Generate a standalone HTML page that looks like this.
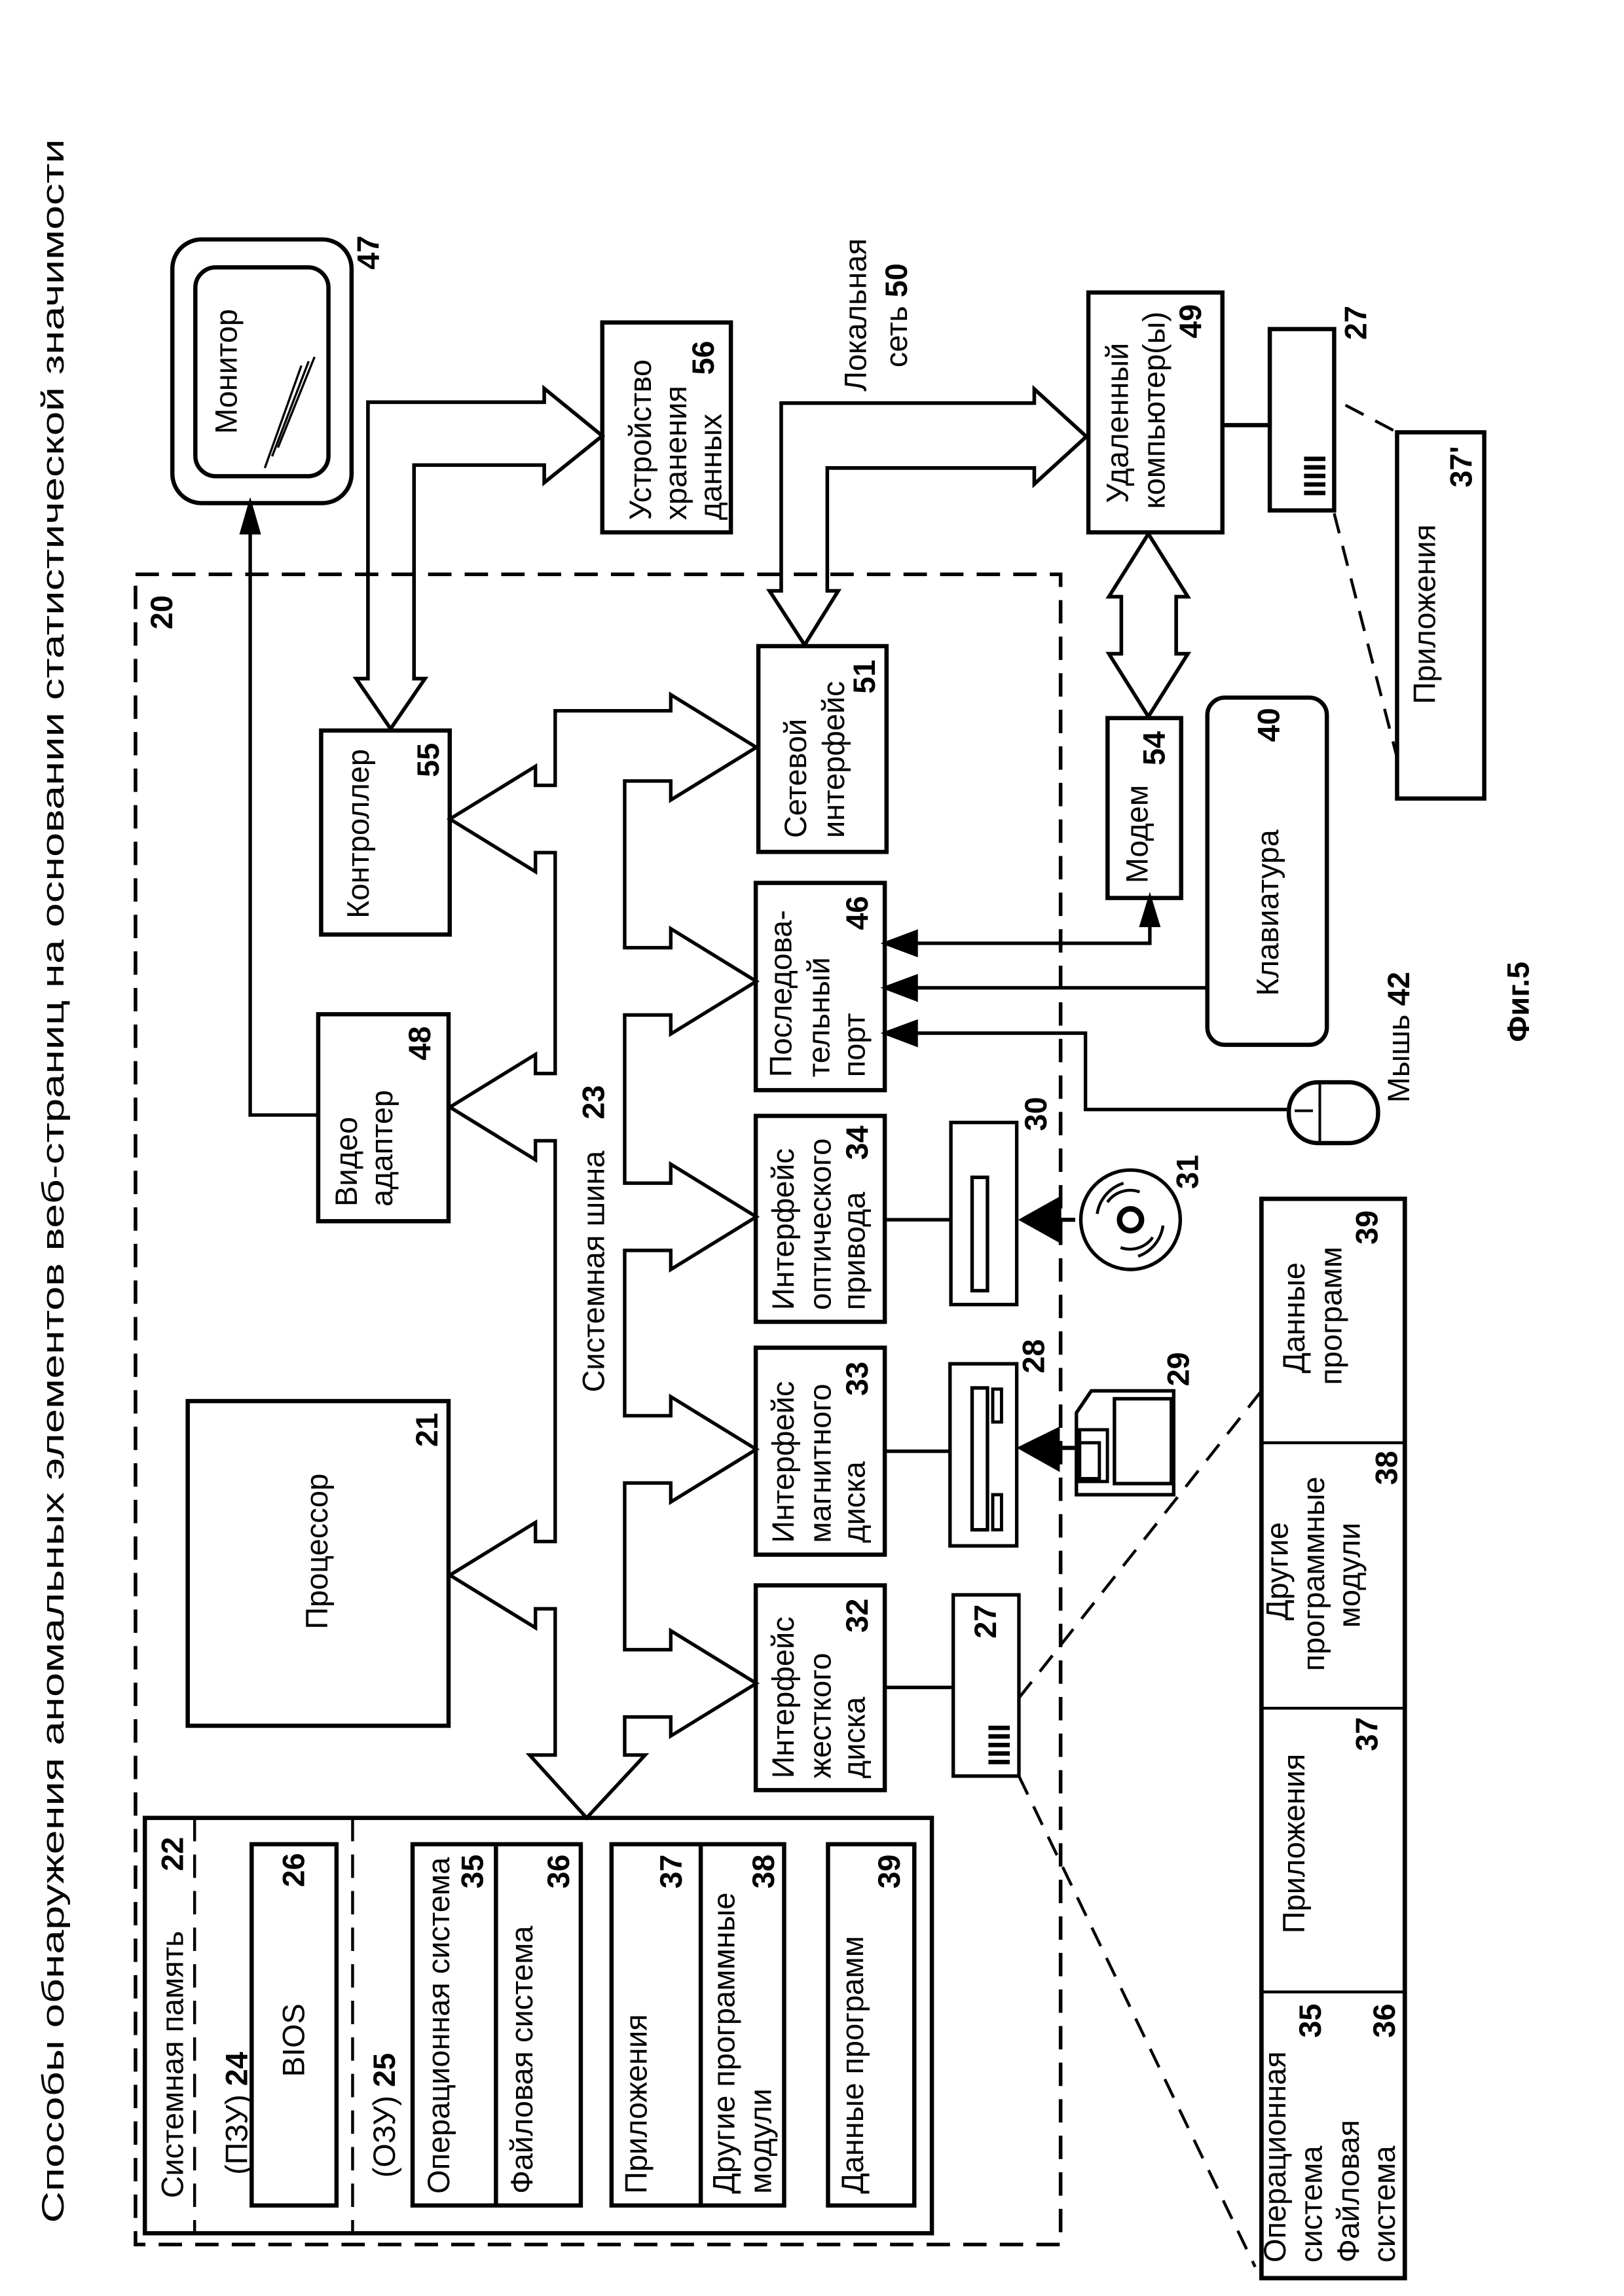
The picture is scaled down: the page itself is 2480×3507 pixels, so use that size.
<!DOCTYPE html>
<html><head><meta charset="utf-8"><style>
html,body{margin:0;padding:0;background:#fff;}
svg{display:block;}
text{font-family:"Liberation Sans","DejaVu Sans",sans-serif;fill:#000;font-size:21px;}
.b{font-weight:bold;}
</style></head><body>
<svg xmlns="http://www.w3.org/2000/svg" width="2480" height="3507" viewBox="0 0 1110.1 1569.9">
<rect x="0" y="0" width="1110.1" height="1569.9" fill="#fff"/>
<g fill="none" stroke="#000" stroke-width="2.9">

<rect x="92.6" y="392.7" width="632.4" height="1142" stroke-dasharray="16,9" stroke-width="2.5"/>

<rect x="117.8" y="163.7" width="122.5" height="180.3" rx="20"/>
<rect x="133.5" y="182.8" width="91" height="142.8" rx="14"/>
<line x1="181" y1="320" x2="206" y2="250" stroke-width="1.5"/>
<line x1="186" y1="312" x2="211" y2="247" stroke-width="1.5"/>
<line x1="190" y1="306" x2="215" y2="244" stroke-width="1.5"/>

<polyline points="217.5,762.4 171,762.4 171,362" stroke-width="2.4"/>
<polygon points="171,345 165.5,364 176.5,364" fill="#000"/>

<rect x="411.7" y="220.5" width="87.9" height="143.5"/>
<polygon points="251.5,464 243.4,464 267,498.3 290.5,464 283,464 283,318 372,318 372,330 411.7,298 372,265.6 372,275 251.5,275" stroke-width="2.5"/>

<rect x="744" y="200" width="91.6" height="164"/>
<polygon points="534,404 526,404 550,441 573,404 565.5,404 565.5,320 707,320 707,331 742.6,298.5 707,266 707,275.6 534,275.6" stroke-width="2.5"/>
<polygon points="785,365 758,408 766.5,408 766.5,447 758,447 785,490 812,447 804,447 804,408 812,408" stroke-width="2.5"/>

<line x1="835.6" y1="290.7" x2="868" y2="290.7"/>
<rect x="868" y="225" width="44" height="124"/>
<rect x="955" y="295.6" width="59.6" height="250.4"/>
<line x1="919.7" y1="277" x2="955" y2="295.6" stroke-dasharray="14,9" stroke-width="2"/>
<line x1="912" y1="351" x2="955" y2="518" stroke-dasharray="14,9" stroke-width="2"/>

<rect x="219.5" y="499.5" width="87.9" height="139.5"/>
<rect x="217.5" y="693.5" width="89.1" height="141.5"/>
<rect x="128.3" y="958" width="178.3" height="222"/>

<rect x="518.4" y="441.8" width="87.6" height="140.7"/>
<rect x="516.6" y="603.7" width="88.2" height="141.7"/>
<rect x="516.6" y="763" width="88.2" height="140.8"/>
<rect x="516.6" y="921.5" width="88.2" height="141.5"/>
<rect x="516.6" y="1084" width="88.2" height="140"/>

<rect x="757.1" y="491" width="50.3" height="123"/>
<rect x="825.3" y="477" width="81.7" height="237.4" rx="12"/>

<polygon stroke-width="2.4" points="379.5,486 458.5,486 458.5,475 517,511 458.5,547 458.5,534 427,534 427,648 458.5,648 458.5,635 517,671 458.5,707 458.5,694 427,694 427,809 458.5,809 458.5,796 517,832 458.5,868 458.5,855 427,855 427,968 458.5,968 458.5,955 517,991 458.5,1027 458.5,1014 427,1014 427,1128 458.5,1128 458.5,1115 517,1151 458.5,1187 458.5,1174 427,1174 427,1200 441,1200 401,1243 362,1200 379.5,1200 379.5,1100 366,1100 366,1113 307.5,1077 366,1041 366,1054 379.5,1054 379.5,780 366,780 366,793 307.5,757 366,721 366,734 379.5,734 379.5,583 366,583 366,596 307.5,560 366,524 366,537 379.5,537"/>

<polyline points="625,645 786,645 786,632" stroke-width="2.4"/>
<polygon points="606,645 626,637.5 626,652.5" fill="#000"/>
<polygon points="786,614.8 780.6,632.5 791.4,632.5" fill="#000"/>
<line x1="625" y1="675.4" x2="825.3" y2="675.4" stroke-width="2.4"/>
<polygon points="606,675.4 626,668 626,683" fill="#000"/>
<polyline points="625,706.4 742,706.4 742,758.6 881.7,758.6" stroke-width="2.4"/>
<polygon points="606,706.4 626,699 626,714" fill="#000"/>
<rect x="881" y="740" width="61" height="41.6" rx="20"/>
<line x1="902.2" y1="740" x2="902.2" y2="781.6" stroke-width="1.8"/>
<line x1="885" y1="759.5" x2="897.5" y2="759.5" stroke-width="1.8"/>

<line x1="604.8" y1="834" x2="650" y2="834" stroke-width="2.4"/>
<rect x="650" y="767.5" width="45" height="124.5" stroke-width="2.4"/>
<rect x="664.5" y="805" width="10.5" height="77.5" stroke-width="2.4"/>
<circle cx="772.8" cy="834" r="34" stroke-width="2.4"/>
<circle cx="772.8" cy="834" r="7.5" stroke-width="3.8"/>
<path d="M757,822 A19,19 0 0 1 779,815" stroke-width="2"/>
<path d="M750,830 A26,26 0 0 1 768,809" stroke-width="2"/>
<path d="M788,846 A19,19 0 0 1 766,853" stroke-width="2"/>
<path d="M795,838 A26,26 0 0 1 778,859" stroke-width="2"/>
<line x1="723" y1="834" x2="735" y2="834" stroke-width="2.8"/>
<polygon points="699,834 724,820 724,848" fill="#000"/>

<line x1="604.8" y1="992.3" x2="649.4" y2="992.3" stroke-width="2.4"/>
<rect x="649.4" y="932.5" width="45.6" height="124.5" stroke-width="2.4"/>
<rect x="664.5" y="949" width="10.5" height="97" stroke-width="2.4"/>
<rect x="678.6" y="949.8" width="6" height="22.5" stroke-width="2.2"/>
<rect x="678.6" y="1022" width="6" height="24" stroke-width="2.2"/>
<path d="M735.8,1022 L802.3,1022 L802.3,951 L746,951 L735.8,966 Z" stroke-width="2.4"/>
<rect x="761.8" y="956.4" width="38.9" height="58" stroke-width="2.4"/>
<rect x="738" y="977.6" width="19" height="35.4" stroke-width="2.2"/>
<rect x="738" y="986.5" width="13.5" height="24.5" stroke-width="2.2"/>
<line x1="723" y1="990" x2="735.8" y2="990" stroke-width="2.8"/>
<polygon points="698,990 723,977.7 723,1004" fill="#000"/>

<line x1="604.8" y1="1153.8" x2="651.6" y2="1153.8" stroke-width="2.4"/>
<rect x="651.6" y="1090.5" width="44.9" height="123.9" stroke-width="2.4"/>
<line x1="696.5" y1="1161" x2="862.3" y2="951" stroke-dasharray="14,9" stroke-width="2"/>
<line x1="696.5" y1="1214.4" x2="858" y2="1550" stroke-dasharray="14,9" stroke-width="2"/>

<rect x="862.3" y="819.7" width="98" height="738" stroke-width="3"/>
<line x1="862.3" y1="986.5" x2="960.3" y2="986.5" stroke-width="2"/>
<line x1="862.3" y1="1168" x2="960.3" y2="1168" stroke-width="2"/>
<line x1="862.3" y1="1362" x2="960.3" y2="1362" stroke-width="2"/>

<rect x="99" y="1243" width="538" height="284"/>
<line x1="133" y1="1243" x2="133" y2="1527" stroke-dasharray="16,9" stroke-width="2"/>
<line x1="241" y1="1243" x2="241" y2="1527" stroke-dasharray="16,9" stroke-width="2"/>
<rect x="172" y="1261" width="58" height="247"/>
<rect x="282" y="1261" width="115" height="247"/>
<line x1="339" y1="1261" x2="339" y2="1508"/>
<rect x="418" y="1261" width="118" height="247"/>
<line x1="479" y1="1261" x2="479" y2="1508"/>
<rect x="566" y="1261" width="59" height="247"/>
</g>

<text transform="translate(43.4,1520) rotate(-90)" font-size="13" textLength="1425" lengthAdjust="spacingAndGlyphs">Способы обнаружения аномальных элементов веб-страниц на основании статистической значимости</text>

<text transform="translate(117.8,407) rotate(-90)" text-anchor="end" class="b">20</text>
<text transform="translate(161.7,254) rotate(-90)" text-anchor="middle">Монитор</text>
<text transform="translate(259,161) rotate(-90)" text-anchor="end" class="b">47</text>

<text transform="translate(445,355.6) rotate(-90)">Устройство</text>
<text transform="translate(469,355.6) rotate(-90)">хранения</text>
<text transform="translate(493,355.6) rotate(-90)">данных</text>
<text transform="translate(488,233) rotate(-90)" text-anchor="end" class="b">56</text>

<text transform="translate(592,163) rotate(-90)" text-anchor="end">Локальная</text>
<text transform="translate(620,180) rotate(-90)" text-anchor="end">сеть <tspan class="b">50</tspan></text>

<text transform="translate(771,344) rotate(-90)">Удаленный</text>
<text transform="translate(796,348) rotate(-90)">компьютер(ы)</text>
<text transform="translate(821,208) rotate(-90)" text-anchor="end" class="b">49</text>
<text transform="translate(906,340) rotate(-90)" font-size="13" class="b">IIIII</text>
<text transform="translate(934,209) rotate(-90)" text-anchor="end" class="b">27</text>
<text transform="translate(981,420) rotate(-90)" text-anchor="middle">Приложения</text>
<text transform="translate(1006,305) rotate(-90)" text-anchor="end" class="b">37'</text>

<text transform="translate(252,628) rotate(-90)">Контроллер</text>
<text transform="translate(300,508) rotate(-90)" text-anchor="end" class="b">55</text>
<text transform="translate(244,825) rotate(-90)">Видео</text>
<text transform="translate(268,825) rotate(-90)">адаптер</text>
<text transform="translate(294,701.7) rotate(-90)" text-anchor="end" class="b">48</text>
<text transform="translate(223.8,1114) rotate(-90)">Процессор</text>
<text transform="translate(299,966) rotate(-90)" text-anchor="end" class="b">21</text>

<text transform="translate(413,952) rotate(-90)">Системная шина</text>
<text transform="translate(413,742) rotate(-90)" text-anchor="end" class="b">23</text>

<text transform="translate(551,573) rotate(-90)">Сетевой</text>
<text transform="translate(577,573) rotate(-90)">интерфейс</text>
<text transform="translate(598,451) rotate(-90)" text-anchor="end" class="b">51</text>

<text transform="translate(541,736.5) rotate(-90)">Последова-</text>
<text transform="translate(567,736.5) rotate(-90)">тельный</text>
<text transform="translate(591,736.5) rotate(-90)">порт</text>
<text transform="translate(593,612.6) rotate(-90)" text-anchor="end" class="b">46</text>

<text transform="translate(542.6,895.8) rotate(-90)">Интерфейс</text>
<text transform="translate(567.8,895.8) rotate(-90)">оптического</text>
<text transform="translate(591,895.8) rotate(-90)">привода</text>
<text transform="translate(593,769.7) rotate(-90)" text-anchor="end" class="b">34</text>

<text transform="translate(542.6,1055) rotate(-90)">Интерфейс</text>
<text transform="translate(567.8,1055) rotate(-90)">магнитного</text>
<text transform="translate(591,1055) rotate(-90)">диска</text>
<text transform="translate(593,931) rotate(-90)" text-anchor="end" class="b">33</text>

<text transform="translate(542.6,1216) rotate(-90)">Интерфейс</text>
<text transform="translate(567.8,1216) rotate(-90)">жесткого</text>
<text transform="translate(591,1216) rotate(-90)">диска</text>
<text transform="translate(593,1093) rotate(-90)" text-anchor="end" class="b">32</text>

<text transform="translate(784.4,604) rotate(-90)">Модем</text>
<text transform="translate(796,500) rotate(-90)" text-anchor="end" class="b">54</text>
<text transform="translate(873.8,681) rotate(-90)">Клавиатура</text>
<text transform="translate(874.5,484) rotate(-90)" text-anchor="end" class="b">40</text>
<text transform="translate(963.4,754) rotate(-90)">Мышь <tspan class="b">42</tspan></text>

<text transform="translate(715.4,750) rotate(-90)" text-anchor="end" class="b">30</text>
<text transform="translate(819,789.6) rotate(-90)" text-anchor="end" class="b">31</text>
<text transform="translate(713.7,915.7) rotate(-90)" text-anchor="end" class="b">28</text>
<text transform="translate(812.7,924.5) rotate(-90)" text-anchor="end" class="b">29</text>
<text transform="translate(680.8,1097) rotate(-90)" text-anchor="end" class="b">27</text>
<text transform="translate(690.2,1207.7) rotate(-90)" font-size="13" class="b">IIIII</text>

<text transform="translate(891.6,939) rotate(-90)">Данные</text>
<text transform="translate(917,947) rotate(-90)">программ</text>
<text transform="translate(941.5,827.6) rotate(-90)" text-anchor="end" class="b">39</text>
<text transform="translate(880.3,1108) rotate(-90)">Другие</text>
<text transform="translate(905,1142.6) rotate(-90)">программные</text>
<text transform="translate(929.6,1113) rotate(-90)">модули</text>
<text transform="translate(955,992) rotate(-90)" text-anchor="end" class="b">38</text>
<text transform="translate(891.6,1322) rotate(-90)">Приложения</text>
<text transform="translate(941.5,1174) rotate(-90)" text-anchor="end" class="b">37</text>
<text transform="translate(878.8,1547) rotate(-90)">Операционная</text>
<text transform="translate(903.5,1547) rotate(-90)">система</text>
<text transform="translate(928.9,1547) rotate(-90)">Файловая</text>
<text transform="translate(953.5,1547) rotate(-90)">система</text>
<text transform="translate(902.8,1370) rotate(-90)" text-anchor="end" class="b">35</text>
<text transform="translate(953.5,1370) rotate(-90)" text-anchor="end" class="b">36</text>

<text transform="translate(125,1503) rotate(-90)">Системная память</text>
<text transform="translate(125,1256) rotate(-90)" text-anchor="end" class="b">22</text>
<text transform="translate(169,1487) rotate(-90)">(ПЗУ) <tspan class="b">24</tspan></text>
<text transform="translate(208,1395) rotate(-90)" text-anchor="middle">BIOS</text>
<text transform="translate(208,1267) rotate(-90)" text-anchor="end" class="b">26</text>
<text transform="translate(270,1489) rotate(-90)">(ОЗУ) <tspan class="b">25</tspan></text>
<text transform="translate(307,1500) rotate(-90)">Операционная система</text>
<text transform="translate(330,1268) rotate(-90)" text-anchor="end" class="b">35</text>
<text transform="translate(364,1500) rotate(-90)">Файловая система</text>
<text transform="translate(389,1268) rotate(-90)" text-anchor="end" class="b">36</text>
<text transform="translate(442,1500) rotate(-90)">Приложения</text>
<text transform="translate(466,1268) rotate(-90)" text-anchor="end" class="b">37</text>
<text transform="translate(502,1500) rotate(-90)">Другие программные</text>
<text transform="translate(527,1500) rotate(-90)">модули</text>
<text transform="translate(529,1268) rotate(-90)" text-anchor="end" class="b">38</text>
<text transform="translate(590,1500) rotate(-90)">Данные программ</text>
<text transform="translate(615,1268) rotate(-90)" text-anchor="end" class="b">39</text>

<text transform="translate(1045,685) rotate(-90)" text-anchor="middle" font-size="26" class="b">Фиг.5</text>
</svg>
</body></html>
